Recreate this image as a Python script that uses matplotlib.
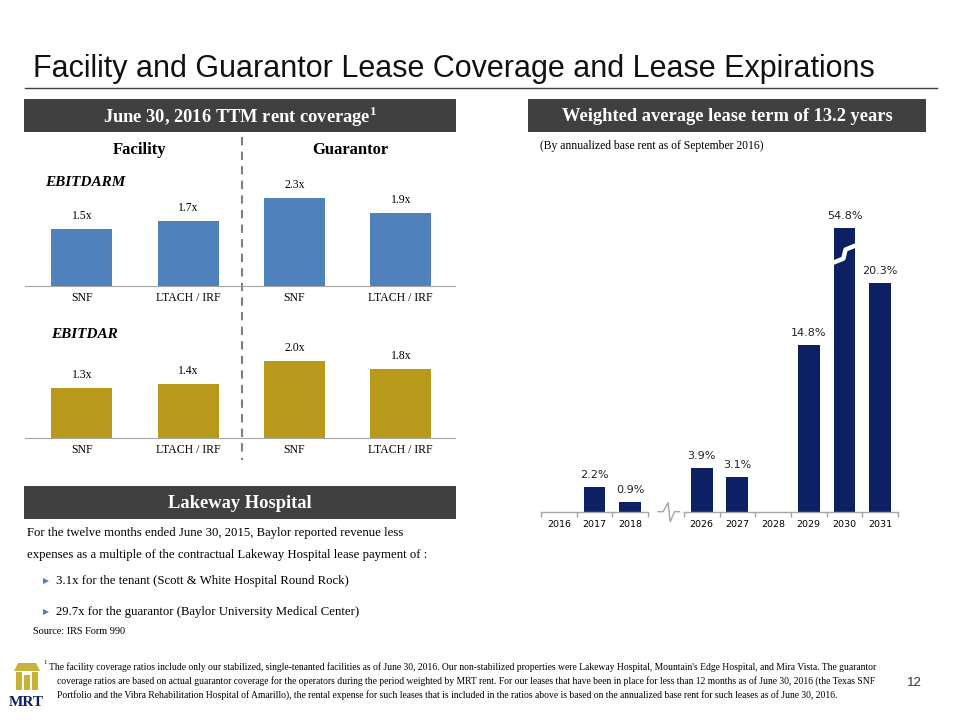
import numpy as np
import matplotlib
matplotlib.use('Agg')
import matplotlib.pyplot as plt
from matplotlib.patches import Rectangle, Polygon

plt.rcParams['mathtext.fontset'] = 'custom'
plt.rcParams['mathtext.bf'] = 'Liberation Serif:bold'

W, H = 960, 720

######################################################################
# data

coverage_cats = ['SNF', 'LTACH / IRF', 'SNF', 'LTACH / IRF']
ebitdarm = [1.5, 1.7, 2.3, 1.9]
ebitdar = [1.3, 1.4, 2.0, 1.8]

expiry_years = ['2016', '2017', '2018', '2026', '2027', '2028', '2029', '2030', '2031']
expiry_pct = [0.0, 2.2, 0.9, 3.9, 3.1, 0.0, 14.8, 54.8, 20.3]
expiry_cap = 25.2   # tallest bar is drawn broken at this height

title = 'Facility and Guarantor Lease Coverage and Lease Expirations'
lakeway_text = ['For the twelve months ended June 30, 2015, Baylor reported revenue less',
                'expenses as a multiple of the contractual Lakeway Hospital lease payment of :']
lakeway_bullets = ['3.1x for the tenant (Scott & White Hospital Round Rock)',
                   '29.7x for the guarantor (Baylor University Medical Center)']
footnote = ["The facility coverage ratios include only our stabilized, single-tenanted facilities as of June 30, 2016. "
            "Our non-stabilized properties were Lakeway Hospital, Mountain's Edge Hospital, and Mira Vista. The guarantor",
            "coverage ratios are based on actual guarantor coverage for the operators during the period weighted by MRT rent. "
            "For our leases that have been in place for less than 12 months as of June 30, 2016 (the Texas SNF",
            "Portfolio and the Vibra Rehabilitation Hospital of Amarillo), the rental expense for such leases that is "
            "included in the ratios above is based on the annualized base rent for such leases as of June 30, 2016."]

BLUE = '#4F81BD'
GOLD = '#B8991C'
NAVY = '#0C2063'
DARK = '#404040'
AXIS = '#A6A6A6'
SERIF = 'Liberation Serif'
SANS = 'Liberation Sans'

######################################################################

fig = plt.figure(figsize=(9.6, 7.2), dpi=100)

bg = fig.add_axes([0, 0, 1, 1])
bg.set_xlim(0, W)
bg.set_ylim(H, 0)
bg.axis('off')


def px_axes(x0, y0, x1, y1):
    ax = fig.add_axes([x0 / W, 1 - y1 / H, (x1 - x0) / W, (y1 - y0) / H])
    ax.patch.set_alpha(0)
    return ax


def header(x0, y0, x1, y1, text):
    bg.add_patch(Rectangle((x0, y0), x1 - x0, y1 - y0, color=DARK, lw=0))
    bg.text((x0 + x1) / 2, (y0 + y1) / 2 + 1, text, ha='center', va='center',
            color='white', fontsize=13.3, fontweight='bold', family=SERIF)


# title
bg.text(33, 77, title, fontsize=22, family=SANS, color='#111111', va='baseline')
bg.plot([25, 937], [88, 88], color=DARK, lw=1)

header(24, 99, 456, 132, 'June 30, 2016 TTM rent coverage$^{\\mathbf{1}}$')
header(528, 99, 926, 132, 'Weighted average lease term of 13.2 years')
header(24, 486, 456, 519, 'Lakeway Hospital')

bg.text(140, 150, 'Facility', ha='center', va='center', fontsize=12,
        fontweight='bold', family=SERIF)
bg.text(350, 150, 'Guarantor', ha='center', va='center', fontsize=12,
        fontweight='bold', family=SERIF)
bg.plot([242, 242], [137, 460], color='#7F7F7F', lw=1.5, dashes=(4, 3))

bg.text(540, 146, '(By annualized base rent as of September 2016)', va='center',
        fontsize=8.4, family=SERIF)

######################################################################
# coverage bar charts


def coverage_chart(y_base, values, color, label, label_x, label_y):
    ax = px_axes(25, y_base - 3.0 * 38.3, 455, y_base)
    pos = np.arange(len(values))
    bars = ax.bar(pos, values, width=0.574, color=color)
    ax.bar_label(bars, labels=[f'{v:.1f}x' for v in values], padding=5,
                 fontsize=8.5, family=SERIF)
    ax.set_xlim(-0.536, 3.51)
    ax.set_ylim(0, 3.0)
    ax.set_xticks(pos, coverage_cats, fontsize=8.5, family=SERIF)
    ax.tick_params(length=0, pad=4)
    ax.set_yticks([])
    for s in ['top', 'left', 'right']:
        ax.spines[s].set_visible(False)
    ax.spines['bottom'].set_color(AXIS)
    bg.text(label_x, label_y, label, va='center',
            fontsize=11, fontweight='bold', fontstyle='italic', family=SERIF)


coverage_chart(286, ebitdarm, BLUE, 'EBITDARM', 45, 182)
coverage_chart(438, ebitdar, GOLD, 'EBITDAR', 51, 335)

######################################################################
# lease expiration chart

ax = px_axes(541, 511.7 - 30 * 11.25, 898, 511.7)
xpos = np.arange(len(expiry_years), dtype=float)
xpos[xpos >= 3] += 1
heights = np.minimum(expiry_pct, expiry_cap)
bars = ax.bar(xpos, heights, width=0.61, color=NAVY)
ax.bar_label(bars, labels=[f'{v:.1f}%' if v > 0 else '' for v in expiry_pct],
             padding=5, fontsize=8, family='DejaVu Sans', color='#222222')
ax.set_xlim(-0.5, 9.5)
ax.set_ylim(0, 30)
ax.set_yticks([])
ax.set_xticks(xpos, expiry_years, fontsize=6.8, family='DejaVu Sans')
ax.set_xticks(np.r_[np.arange(-0.5, 3, 1), np.arange(3.5, 10, 1)], minor=True)
ax.tick_params(which='major', length=0, pad=6)
ax.tick_params(which='minor', length=3.5, color=AXIS, width=1)
for s in ax.spines.values():
    s.set_visible(False)
ax.plot([-0.5, 2.5], [0, 0], color=AXIS, lw=1, clip_on=False)
ax.plot([3.5, 9.5], [0, 0], color=AXIS, lw=1, clip_on=False)
# axis break symbol
ax.plot([2.78, 2.92, 3.06, 3.12, 3.24, 3.38], [0, 0, 0.8, -0.9, 0, 0],
        color=AXIS, lw=1, clip_on=False)
# value break on the tallest bar
i_big = int(np.argmax(expiry_pct))
xb = xpos[i_big]
ax.plot([xb - 0.34, xb - 0.03, xb + 0.03, xb + 0.34], [22.1, 22.5, 23.3, 23.7],
        color='white', lw=3.2, solid_capstyle='butt')

######################################################################
# Lakeway text

bg.text(27, 533, lakeway_text[0], va='center', fontsize=9.2, family=SERIF)
bg.text(27, 555, lakeway_text[1], va='center', fontsize=9.2, family=SERIF)
for yy, t in zip([581, 612], lakeway_bullets):
    bg.plot(46, yy, marker='>', color=BLUE, ms=4.5, mew=0)
    bg.text(56, yy, t, va='center', fontsize=9.2, family=SERIF)
bg.text(33, 631, 'Source: IRS Form 990', va='center', fontsize=7.4, family=SERIF)

######################################################################
# footnote, page number, logo

bg.text(43, 663, '1', va='center', fontsize=4.8, family=SERIF)
bg.text(49, 667, footnote[0], va='center', fontsize=6.9, family=SERIF)
bg.text(57, 681, footnote[1], va='center', fontsize=6.9, family=SERIF)
bg.text(57, 695, footnote[2], va='center', fontsize=6.9, family=SERIF)
bg.text(922, 683, '12', ha='right', va='center', fontsize=9.5, family=SANS,
        color='#333333')

LOGO = '#C9B23A'
bg.add_patch(Polygon([(14, 671), (40, 671), (36, 663), (18, 663)], color=LOGO, lw=0))
bg.add_patch(Rectangle((16, 672), 6, 18, color=LOGO, lw=0))
bg.add_patch(Rectangle((32, 672), 6, 18, color=LOGO, lw=0))
bg.add_patch(Rectangle((24, 675), 6, 15, color=LOGO, lw=0))
bg.text(26, 703, 'MRT', ha='center', va='center', fontsize=11, fontweight='bold',
        family=SERIF, color=NAVY)

fig.savefig('out.png', dpi=100)
